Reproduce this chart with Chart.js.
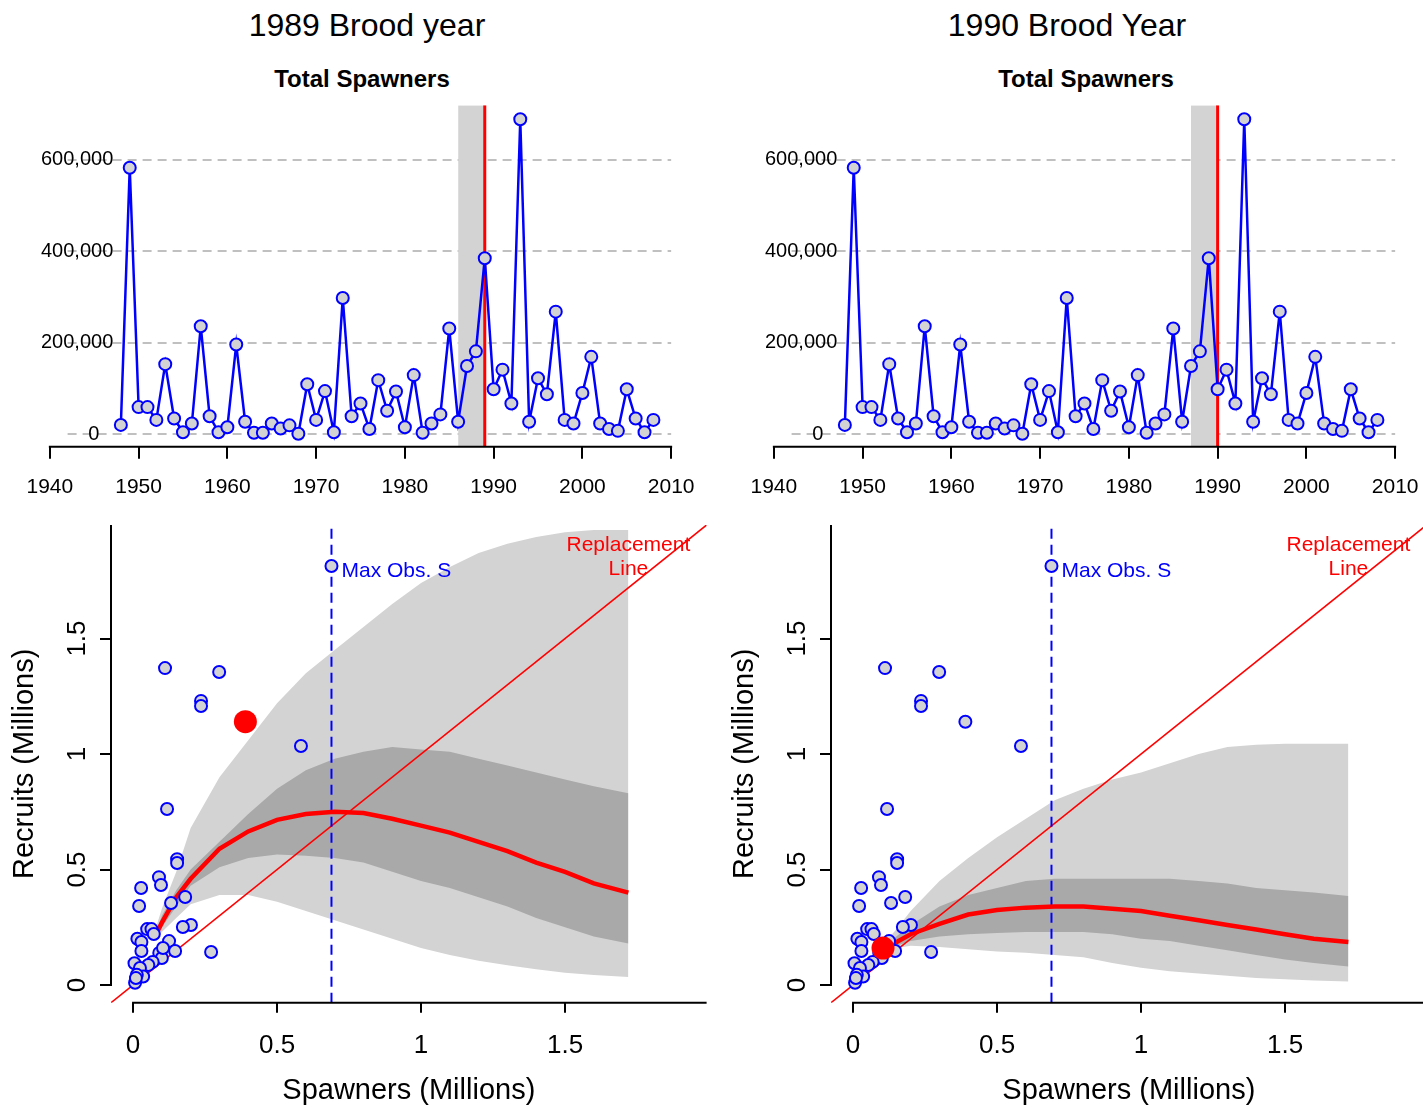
<!DOCTYPE html>
<html><head><meta charset="utf-8">
<script src="https://cdn.jsdelivr.net/npm/chart.js@4.4.1/dist/chart.umd.min.js"></script>
<style>
body{margin:0;width:1423px;height:1108px;overflow:hidden;background:#fff;position:relative;font-family:"Liberation Sans",Arial,Helvetica,sans-serif;}
canvas{position:absolute;}
.t{position:absolute;text-align:center;white-space:nowrap;color:#000;}
</style></head><body>
<div class="t" style="left:167px;top:5px;width:400px;font-size:32px;line-height:40px;">1989 Brood year</div>
<div class="t" style="left:867px;top:5px;width:400px;font-size:32px;line-height:40px;">1990 Brood Year</div>
<div class="t" style="left:212px;top:64px;width:300px;font-size:24px;line-height:30px;font-weight:bold;">Total Spawners</div>
<div class="t" style="left:936px;top:64px;width:300px;font-size:24px;line-height:30px;font-weight:bold;">Total Spawners</div>
<canvas id="ts1" width="720" height="520" style="left:0;top:0"></canvas>
<canvas id="ts2" width="720" height="520" style="left:724px;top:0"></canvas>
<canvas id="sr1" width="720" height="608" style="left:0;top:500px"></canvas>
<canvas id="sr2" width="720" height="608" style="left:720px;top:500px"></canvas>
<script>
// ---------- Time series data ----------
const years = [1948,1949,1950,1951,1952,1953,1954,1955,1956,1957,
  1958,1959,1960,1961,1962,1963,1964,1965,1966,1967,
  1968,1969,1970,1971,1972,1973,1974,1975,1976,1977,
  1978,1979,1980,1981,1982,1983,1984,1985,1986,1987,
  1988,1989,1990,1991,1992,1993,1994,1995,1996,1997,
  1998,1999,2000,2001,2002,2003,2004,2005,2006,2007,2008];
const spawners = [20000,583000,59000,59000,31000,153000,34000,4000,23000,236000,
  39000,4000,15000,196000,27000,3000,3000,23000,12000,19000,
  500,109000,31000,94000,4000,298000,39000,67000,11000,118000,
  51000,93000,15000,129000,3000,23000,43000,231000,27000,149000,
  181000,385000,98000,141000,67000,689000,27000,122000,87000,268000,
  31000,23000,90000,169000,23000,11000,7000,98000,34000,4000,31000];
const broodYears = [1989, 1990];
const bandStartYears = [1986, 1987];
const tsXRange = [1937.2, 2012.8];
const tsYRange = [-27700, 719700];
const tsXTicks = [1940, 1950, 1960, 1970, 1980, 1990, 2000, 2010];
const tsYTicks = [0, 200000, 400000, 600000];
const tsGridYears = [1942, 2010];

// ---------- Spawner-recruit data (millions) ----------
const srSpawners = [0.689,0.111,0.299,0.236,0.236,0.39,0.583,0.118,0.153,0.153,
  0.090,0.097,0.028,0.021,0.132,0.181,0.201,0.173,0.271,0.049,
  0.064,0.072,0.015,0.029,0.125,0.146,0.091,0.100,0.029,0.068,
  0.053,0.005,0.024,0.035,0.013,0.007,0.010,0.104];
const srRecruits = [1.814,1.372,1.355,1.230,1.208,1.140,1.035,0.762,0.545,0.528,
  0.467,0.433,0.420,0.342,0.355,0.381,0.260,0.251,0.143,0.242,
  0.242,0.221,0.200,0.186,0.190,0.147,0.139,0.117,0.147,0.100,
  0.087,0.094,0.074,0.037,0.044,0.010,0.030,0.160];
const highlightIndex = [5, 37];   // 1989 brood, 1990 brood
const maxObsS = 0.689;
const srRange = [-0.0766, 1.9916];
const srTicks = [0, 0.5, 1, 1.5];

const bandS = [0.08,0.10,0.15,0.20,0.30,0.40,0.50,0.60,0.70,0.80,0.90,1.00,1.10,1.20,1.30,1.40,1.50,1.60,1.72];
// 1989
const light1989Upper = [0.25,0.33,0.49,0.68,0.90,1.06,1.22,1.35,1.45,1.55,1.65,1.74,1.81,1.87,1.91,1.94,1.96,1.97,1.97];
const light1989Lower = [0.20,0.23,0.29,0.35,0.39,0.39,0.36,0.32,0.28,0.24,0.20,0.16,0.13,0.105,0.085,0.068,0.053,0.043,0.035];
const dark1989Upper  = [0.23,0.30,0.41,0.50,0.62,0.74,0.85,0.93,0.98,1.01,1.03,1.02,1.01,0.98,0.95,0.92,0.89,0.86,0.83];
const dark1989Lower  = [0.22,0.25,0.34,0.43,0.51,0.55,0.565,0.56,0.55,0.53,0.49,0.45,0.42,0.38,0.34,0.29,0.25,0.21,0.18];
const median1989     = [0.22,0.27,0.38,0.46,0.59,0.665,0.715,0.74,0.75,0.745,0.72,0.69,0.66,0.62,0.58,0.53,0.49,0.44,0.40];
// 1990
const light1990Upper = [0.13,0.17,0.24,0.32,0.45,0.55,0.64,0.72,0.80,0.85,0.89,0.92,0.96,1.00,1.03,1.04,1.045,1.045,1.045];
const light1990Lower = [0.12,0.14,0.16,0.17,0.165,0.155,0.145,0.14,0.13,0.12,0.095,0.075,0.06,0.05,0.04,0.03,0.025,0.02,0.015];
const dark1990Upper  = [0.13,0.16,0.21,0.26,0.34,0.39,0.42,0.45,0.46,0.46,0.46,0.46,0.46,0.45,0.44,0.42,0.41,0.40,0.385];
const dark1990Lower  = [0.13,0.15,0.17,0.19,0.21,0.22,0.225,0.23,0.23,0.23,0.22,0.20,0.19,0.17,0.15,0.13,0.11,0.095,0.08];
const median1990     = [0.13,0.155,0.185,0.22,0.265,0.305,0.325,0.335,0.34,0.34,0.33,0.32,0.30,0.28,0.26,0.24,0.22,0.20,0.186];

const FONT = '"Liberation Sans", Arial, Helvetica, sans-serif';
Chart.defaults.font.family = FONT;
Chart.defaults.color = '#000';
Chart.defaults.animation = false;

const zip = (xs, ys) => xs.map((x, i) => ({x: x, y: ys[i]}));
const fixTicks = vals => (scale => { scale.ticks = vals.map(v => ({value: v})); });
function padLabel(v) {
  let s = Math.round(v).toString().replace(/\B(?=(\d{3})+(?!\d))/g, ',');
  while (s.length < 7) s = ' ' + s;
  return s;
}

const tsDecor = {
  id: 'tsDecor',
  beforeDraw(chart, args, opts) {
    const {ctx, scales: {x, y}} = chart;
    ctx.save();
    ctx.strokeStyle = '#c0c0c0'; ctx.lineWidth = 2; ctx.setLineDash([9, 6]);
    y.ticks.forEach(t => {
      const py = Math.round(y.getPixelForValue(t.value));
      ctx.beginPath();
      ctx.moveTo(x.getPixelForValue(opts.gridFrom), py);
      ctx.lineTo(x.getPixelForValue(opts.gridTo), py);
      ctx.stroke();
    });
    ctx.restore();
  },
  afterDraw(chart) {
    const {ctx, scales: {x}, chartArea} = chart;
    const first = x.ticks[0].value, last = x.ticks[x.ticks.length - 1].value;
    ctx.save();
    ctx.strokeStyle = '#000'; ctx.lineWidth = 2;
    ctx.beginPath();
    ctx.moveTo(x.getPixelForValue(first) - 1, chartArea.bottom);
    ctx.lineTo(x.getPixelForValue(last) + 1, chartArea.bottom);
    ctx.stroke();
    ctx.restore();
  }
};

function tsChart(id, k) {
  return new Chart(document.getElementById(id), {
    type: 'line',
    data: { datasets: [
      { data: [{x: bandStartYears[k], y: tsYRange[1]}, {x: broodYears[k], y: tsYRange[1]}],
        fill: 'start', backgroundColor: '#d3d3d3', borderWidth: 0, pointRadius: 0, order: 10 },
      { data: [{x: broodYears[k], y: tsYRange[0]}, {x: broodYears[k], y: tsYRange[1]}],
        borderColor: '#ff0000', borderWidth: 3, pointRadius: 0, fill: false, order: 5 },
      { label: 'Total Spawners', data: zip(years, spawners), borderColor: '#0000ff', borderWidth: 2.5,
        pointRadius: 6, pointBorderWidth: 2, pointBackgroundColor: '#d3d3d3', pointBorderColor: '#0000ff',
        fill: false, order: 1 }
    ]},
    options: {
      responsive: false, animation: false, events: [],
      layout: { padding: {left: 25, right: 24, top: 105.3, bottom: 0}, autoPadding: false },
      plugins: { legend: {display: false}, tooltip: {enabled: false}, tsDecor: {gridFrom: tsGridYears[0], gridTo: tsGridYears[1]} },
      scales: {
        x: { type: 'linear', min: tsXRange[0], max: tsXRange[1],
          afterBuildTicks: fixTicks(tsXTicks),
          afterFit: s => { s.height = 73.3; },
          border: {display: false},
          grid: {display: true, drawOnChartArea: false, drawTicks: true, tickLength: 12, color: '#000', lineWidth: 2},
          ticks: {autoSkip: false, maxRotation: 0, font: {size: 21}, padding: 16,
            callback: v => String(v)} },
        y: { type: 'linear', min: tsYRange[0], max: tsYRange[1],
          afterBuildTicks: fixTicks(tsYTicks),
          afterFit: s => { s.width = 0; },
          border: {display: false}, grid: {display: false},
          ticks: {autoSkip: false, mirror: true, crossAlign: 'center', padding: 16,
            font: {size: 20}, callback: v => padLabel(v)} }
      }
    },
    plugins: [tsDecor]
  });
}

const srDecor = {
  id: 'srDecor',
  afterDatasetsDraw(chart, args, opts) {
    const {ctx, scales: {x, y}} = chart;
    ctx.save();
    ctx.font = '21px ' + FONT;
    ctx.textBaseline = 'middle';
    ctx.fillStyle = '#0000ff'; ctx.textAlign = 'left';
    ctx.fillText('Max Obs. S', x.getPixelForValue(opts.maxS) + 10, y.getPixelForValue(opts.maxR) + 5);
    ctx.fillStyle = '#ff0000'; ctx.textAlign = 'center';
    const cx = x.getPixelForValue(opts.repS), cy = y.getPixelForValue(opts.repR);
    ctx.fillText('Replacement', cx, cy);
    ctx.fillText('Line', cx, cy + 24);
    ctx.strokeStyle = '#000'; ctx.lineWidth = 2;
    ctx.beginPath();
    ctx.moveTo(x.getPixelForValue(0) - 1, chart.chartArea.bottom);
    ctx.lineTo(x.getPixelForValue(x.max), chart.chartArea.bottom);
    ctx.stroke();
    ctx.beginPath();
    ctx.moveTo(chart.chartArea.left, y.getPixelForValue(0) + 1);
    ctx.lineTo(chart.chartArea.left, y.getPixelForValue(y.max));
    ctx.stroke();
    ctx.restore();
  }
};

function srChart(id, k, lightU, lightL, darkU, darkL, med) {
  const hi = highlightIndex[k];
  const pts = [];
  srSpawners.forEach((s, i) => { if (i !== hi) pts.push({x: s, y: srRecruits[i]}); });
  const lineBase = {pointRadius: 0, fill: false, tension: 0};
  return new Chart(document.getElementById(id), {
    type: 'line',
    data: { datasets: [
      Object.assign({}, lineBase, {data: zip(bandS, lightL), borderWidth: 0, order: 20}),
      Object.assign({}, lineBase, {data: zip(bandS, lightU), borderWidth: 0, fill: '-1', backgroundColor: '#d3d3d3', order: 19}),
      Object.assign({}, lineBase, {data: zip(bandS, darkL), borderWidth: 0, order: 18}),
      Object.assign({}, lineBase, {data: zip(bandS, darkU), borderWidth: 0, fill: '-1', backgroundColor: '#a9a9a9', order: 17}),
      Object.assign({}, lineBase, {data: zip(srRange, srRange), borderColor: '#ff0000', borderWidth: 1.6, order: 16}),
      Object.assign({}, lineBase, {data: [{x: maxObsS, y: srRange[0]}, {x: maxObsS, y: srRange[1]}],
        borderColor: '#0000ff', borderWidth: 2, borderDash: [10, 6], order: 15}),
      Object.assign({}, lineBase, {data: zip(bandS, med), borderColor: '#ff0000', borderWidth: 4.5, order: 14}),
      { data: pts, showLine: false, pointRadius: 6, pointBorderWidth: 2, pointBackgroundColor: '#d3d3d3',
        pointBorderColor: '#0000ff', order: 3 },
      { data: [{x: srSpawners[hi], y: srRecruits[hi]}], showLine: false, pointRadius: 11.5, pointBorderWidth: 0,
        pointBackgroundColor: '#ff0000', pointBorderColor: '#ff0000', order: 1 }
    ]},
    options: {
      responsive: false, animation: false, events: [],
      layout: { padding: {left: 0, right: 13.4, top: 25, bottom: 0}, autoPadding: false },
      plugins: { legend: {display: false}, tooltip: {enabled: false},
        srDecor: {maxS: maxObsS, maxR: srRecruits[0], repS: 1.72, repR: 1.905} },
      scales: {
        x: { type: 'linear', min: srRange[0], max: srRange[1],
          afterBuildTicks: fixTicks(srTicks),
          afterFit: s => { s.height = 105.3; },
          border: {display: false},
          grid: {display: true, drawOnChartArea: false, drawTicks: true, tickLength: 10, color: '#000', lineWidth: 2},
          ticks: {autoSkip: false, maxRotation: 0, font: {size: 26}, padding: 18,
            callback: v => String(v)},
          title: {display: true, text: 'Spawners (Millions)', font: {size: 29}, padding: {top: 0, bottom: 0}} },
        y: { type: 'linear', min: srRange[0], max: srRange[1],
          afterBuildTicks: fixTicks(srTicks),
          afterFit: s => { s.width = 111; },
          border: {display: false},
          grid: {display: true, drawOnChartArea: false, drawTicks: true, tickLength: 11, color: '#000', lineWidth: 2},
          ticks: {autoSkip: false, minRotation: 90, maxRotation: 90,
            crossAlign: 'center', font: {size: 26}, padding: 4,
            callback: v => String(v)},
          title: {display: true, text: 'Recruits (Millions)', font: {size: 29}, padding: {top: 8, bottom: 0}} }
      }
    },
    plugins: [srDecor]
  });
}

tsChart('ts1', 0);
tsChart('ts2', 1);
srChart('sr1', 0, light1989Upper, light1989Lower, dark1989Upper, dark1989Lower, median1989);
srChart('sr2', 1, light1990Upper, light1990Lower, dark1990Upper, dark1990Lower, median1990);
</script>
</body></html>
